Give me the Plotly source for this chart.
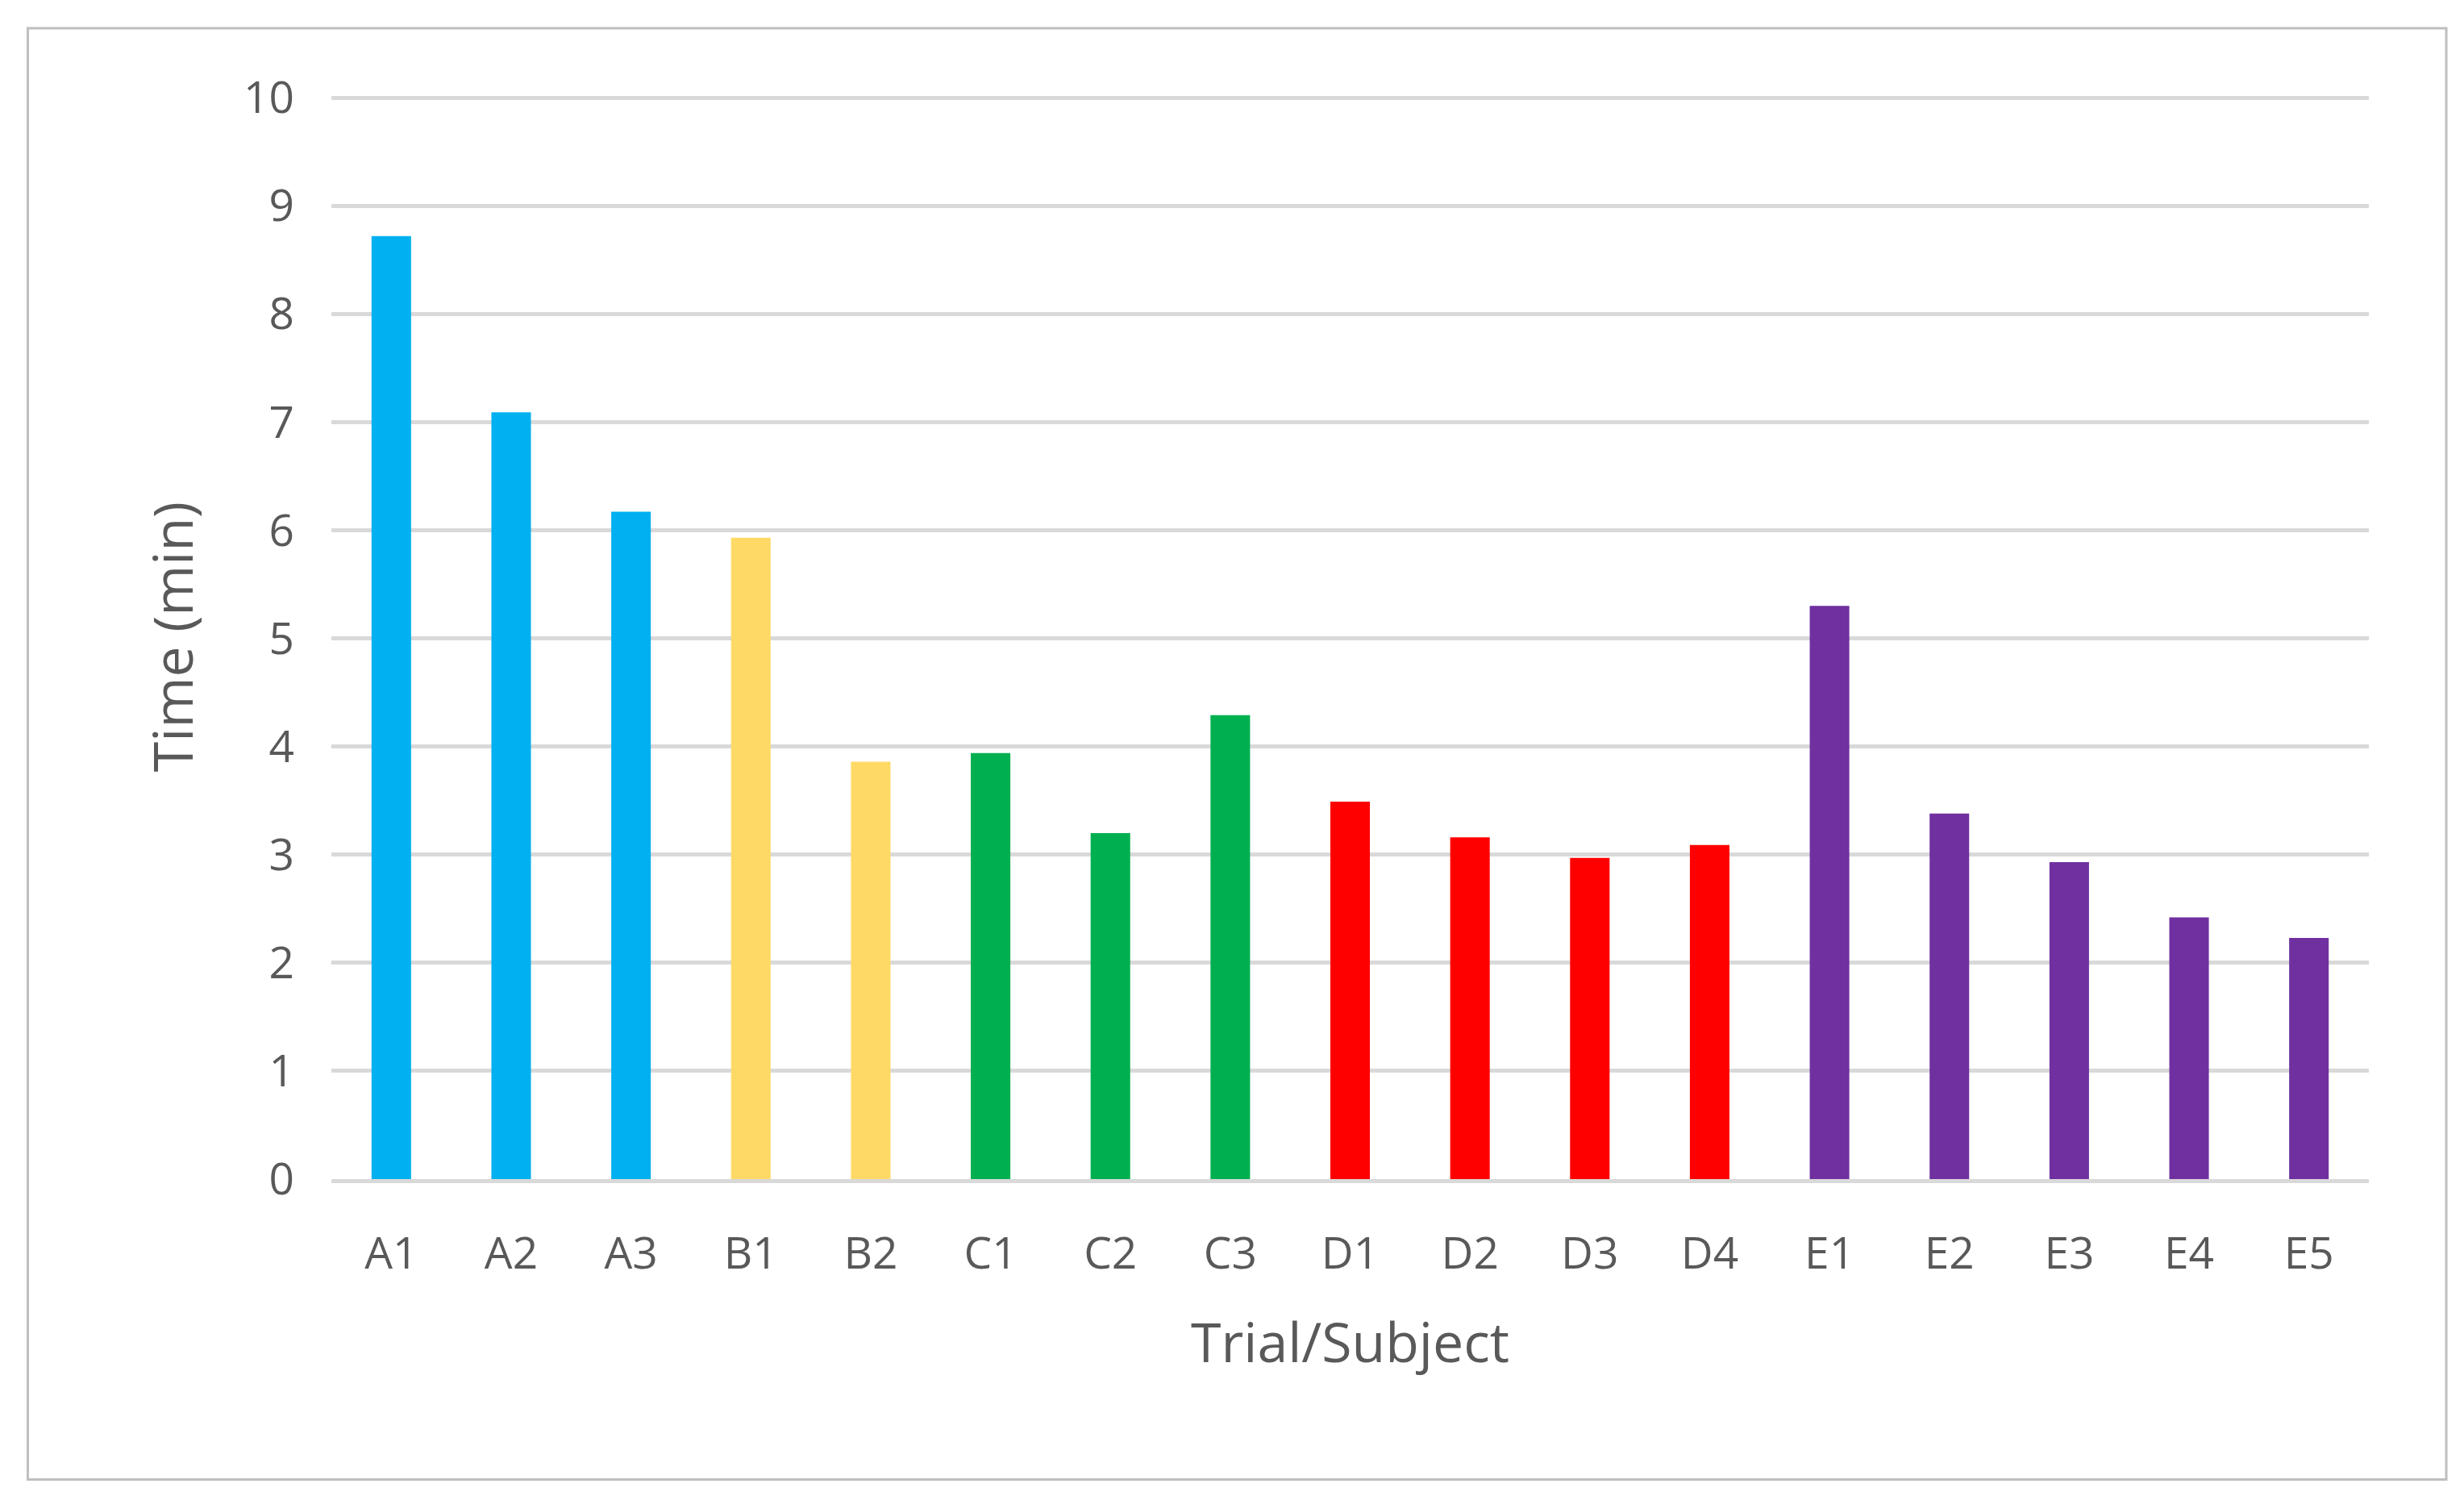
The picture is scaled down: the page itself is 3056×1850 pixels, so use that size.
import plotly.graph_objects as go

categories = ["A1","A2","A3","B1","B2","C1","C2","C3","D1","D2","D3","D4","E1","E2","E3","E4","E5"]
values = [8.72,7.09,6.17,5.93,3.86,3.94,3.20,4.29,3.49,3.16,2.97,3.09,5.30,3.38,2.93,2.42,2.23]
group_colors = {"A":"#00B0F0","B":"#FFD966","C":"#00B050","D":"#FF0000","E":"#7030A0"}
colors = [group_colors[c[0]] for c in categories]

fig = go.Figure(go.Bar(x=categories, y=values, marker_color=colors, marker_line_width=0))
W, H = 3056, 1850
fig.update_layout(
    width=W, height=H, paper_bgcolor="white", plot_bgcolor="white",
    margin=dict(l=403, r=W-2930, t=109, b=H-1454),
    bargap=0.67, showlegend=False,
    font=dict(family="Open Sans, Liberation Sans, sans-serif", color="#595959"),
    shapes=[dict(type="rect", xref="paper", yref="paper", x0=-0.149, x1=1.038, y0=-0.277, y1=1.061,
                 line=dict(color="#BFBFBF", width=3))],
)
fig.update_yaxes(range=[0,10.03], dtick=1, showgrid=True, gridcolor="#D9D9D9", gridwidth=5,
                 zeroline=False, tickfont=dict(size=55), ticklen=0, ticks="", ticklabelstandoff=45,
                 title=dict(text="Time (min)", font=dict(size=68), standoff=40))
fig.update_xaxes(showline=True, linecolor="#D9D9D9", linewidth=5, tickfont=dict(size=55),
                 ticklabelstandoff=40,
                 title=dict(text="Trial/Subject", font=dict(size=68), standoff=55))
fig.write_html("out.html")
